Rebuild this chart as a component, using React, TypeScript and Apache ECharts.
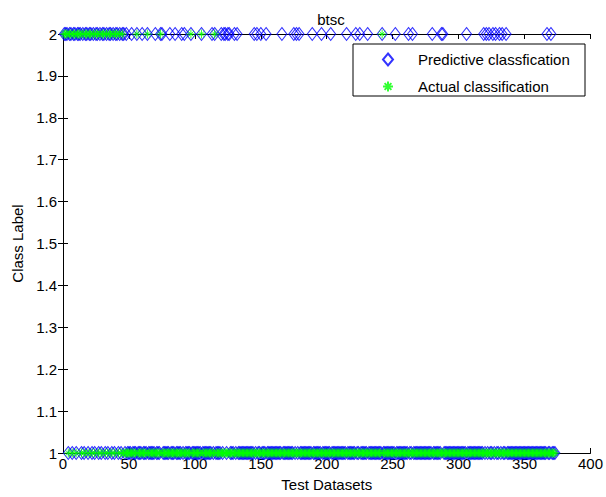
import React, { useEffect, useRef } from "react";
import * as echarts from "echarts";

// Number of test samples
const sampleCount = 373;
// Sample indices predicted as class 2 (all others predicted class 1)
const predictedClass2 = [
  1, 2, 3, 5, 6, 8, 9, 11, 12, 13, 15, 17, 18, 20, 21, 23, 25, 26, 28, 30, 31, 33, 35, 36, 38, 40, 41, 43, 45, 46, 48,
  52, 56, 60, 64, 70, 74, 75, 81, 85, 90, 92, 97, 105, 113, 115, 120, 122, 123, 125, 126, 130, 132,
  145, 147, 150, 154, 166, 175, 177, 179, 189, 196, 203,
  215, 222, 225, 231, 242, 252, 262, 265, 280, 287, 288,
  306, 319, 321, 323, 326, 328, 331, 333, 336, 367, 370,
];
// Sample indices whose actual class is 2 (all others actual class 1)
const actualClass2 = [
  1, 2, 3, 5, 6, 8, 9, 11, 12, 13, 15, 17, 18, 20, 21, 23, 25, 26, 28, 30, 31, 33, 35, 36, 38, 40, 41, 43, 45,
  56, 64, 74, 97, 105, 115, 242,
];
const xTicks = { min: 0, max: 400, interval: 50 };
const yTicks = { min: 1, max: 2, interval: 0.1 };
const seriesNames = ["Predictive classfication", "Actual classification"];

const ASTERISK = "path://M5,0L5,10M0,5L10,5M1.6,1.6L8.4,8.4M1.6,8.4L8.4,1.6";

function buildSeries(class2: number[]) {
  const set = new Set(class2);
  const out: [number, number][] = [];
  for (let i = 1; i <= sampleCount; i++) out.push([i, set.has(i) ? 2 : 1]);
  return out;
}

export default function App() {
  const ref = useRef<HTMLDivElement>(null);
  useEffect(() => {
    if (!ref.current) return;
    const chart = echarts.init(ref.current, undefined, { renderer: "svg" });
    const font = "Arial, 'Liberation Sans', sans-serif";
    const axisCommon = {
      axisLine: { show: true, lineStyle: { color: "#000", width: 1 } },
      axisTick: { show: true, inside: true, length: 5, lineStyle: { color: "#000" } },
      splitLine: { show: false },
    };
    chart.setOption({
      animation: false,
      backgroundColor: "#fff",
      textStyle: { fontFamily: font },
      title: {
        text: "btsc",
        left: 326,
        top: 7,
        textAlign: "center",
        textStyle: { fontSize: 15, fontWeight: "normal", color: "#000", fontFamily: font },
      },
      grid: { left: 63, right: 14, top: 34, bottom: 40, containLabel: false },
      xAxis: [
        {
          type: "value",
          ...xTicks,
          ...axisCommon,
          name: "Test Datasets",
          nameLocation: "middle",
          nameGap: 24,
          nameTextStyle: { fontSize: 15, color: "#000", fontFamily: font },
          axisLabel: { color: "#000", fontSize: 15, margin: 3, fontFamily: font },
        },
        {
          type: "value",
          position: "top",
          ...xTicks,
          ...axisCommon,
          axisLabel: { show: false },
        },
      ],
      yAxis: [
        {
          type: "value",
          ...yTicks,
          ...axisCommon,
          name: "Class Label",
          nameLocation: "middle",
          nameGap: 38,
          nameTextStyle: { fontSize: 15, color: "#000", fontFamily: font },
          axisLabel: {
            color: "#000",
            fontSize: 15,
            margin: 6,
            fontFamily: font,
            formatter: (v: number) => String(Math.round(v * 10) / 10),
          },
        },
        {
          type: "value",
          position: "right",
          ...yTicks,
          ...axisCommon,
          axisLabel: { show: false },
        },
      ],
      legend: {
        orient: "vertical",
        left: 382,
        top: 52,
        padding: 0,
        itemWidth: 10,
        itemHeight: 12,
        itemGap: 12,
        textStyle: { fontSize: 15, color: "#000", fontFamily: font, padding: [0, 0, 0, 20] },
        data: [
          { name: seriesNames[0], icon: "diamond" },
          { name: seriesNames[1], icon: ASTERISK },
        ],
      },
      graphic: [
        {
          type: "rect",
          z: 3,
          shape: { x: 353, y: 44, width: 232, height: 52 },
          style: { fill: "#fff", stroke: "#000", lineWidth: 1 },
        },
      ],
      series: [
        {
          name: seriesNames[0],
          type: "scatter",
          data: buildSeries(predictedClass2),
          symbol: "diamond",
          symbolSize: [10, 13],
          clip: false,
          itemStyle: { color: "transparent", borderColor: "#0000ff", borderWidth: 1 },
        },
        {
          name: seriesNames[1],
          type: "scatter",
          data: buildSeries(actualClass2),
          symbol: ASTERISK,
          symbolSize: 9,
          clip: false,
          itemStyle: { color: "transparent", borderColor: "#00ff00", borderWidth: 1 },
        },
      ],
    });
    return () => chart.dispose();
  }, []);
  return (
    <div
      ref={ref}
      style={{ position: "absolute", left: 0, top: 0, width: 606, height: 497 }}
    />
  );
}
